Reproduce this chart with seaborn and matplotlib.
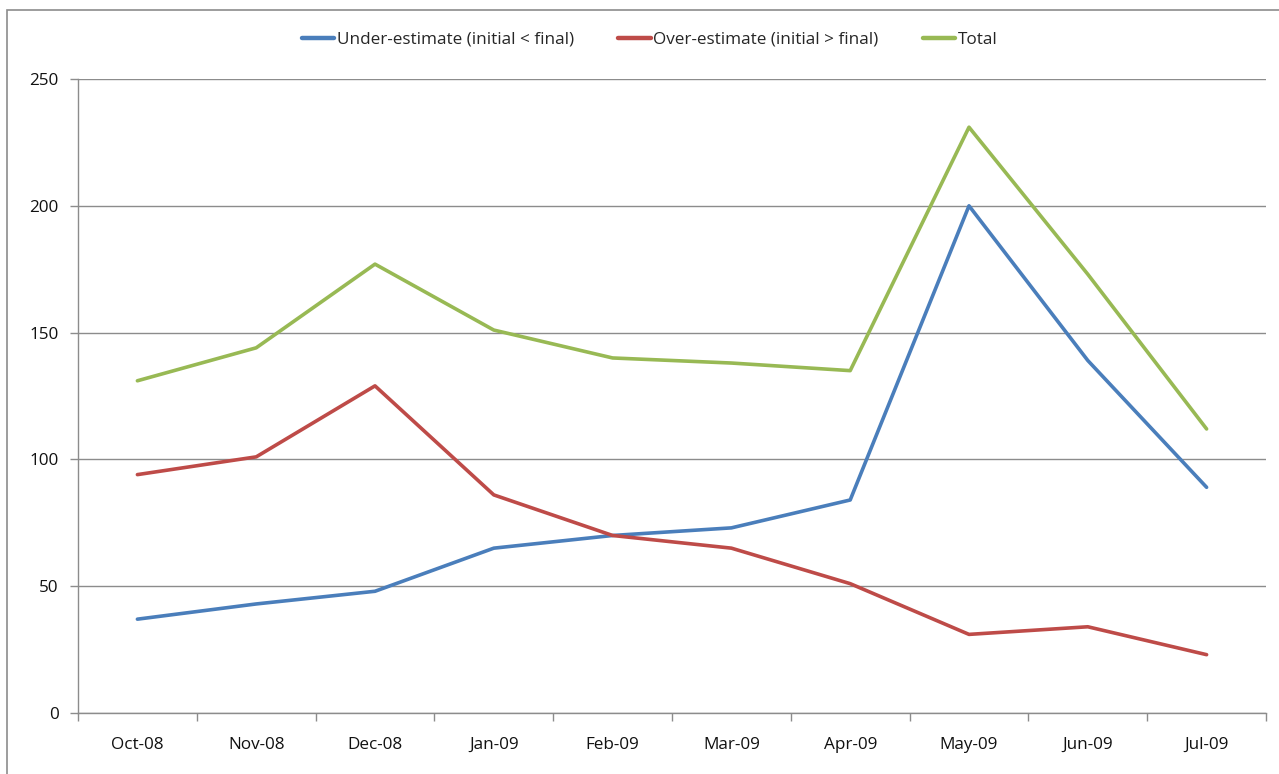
import matplotlib
matplotlib.use("Agg")
import matplotlib.pyplot as plt
import seaborn as sns
import pandas as pd
from matplotlib.patches import Rectangle

months = ["Oct-08", "Nov-08", "Dec-08", "Jan-09", "Feb-09", "Mar-09", "Apr-09", "May-09", "Jun-09", "Jul-09"]
under = [37, 43, 48, 65, 70, 73, 84, 200, 139, 89]
over = [94, 101, 129, 86, 70, 65, 51, 31, 34, 23]
total = [131, 144, 177, 151, 140, 138, 135, 231, 173, 112]
series_names = ["Under-estimate (initial < final)", "Over-estimate (initial > final)", "Total"]
colors = ["#4A7EBB", "#BE4B48", "#98B954"]
yticks = [0, 50, 100, 150, 200, 250]

sns.set_theme(style="white")
plt.rcParams['font.family'] = ['Open Sans', 'DejaVu Sans']

rows = []
for name, vals in zip(series_names, [under, over, total]):
    for i, (m, v) in enumerate(zip(months, vals)):
        rows.append({"idx": i, "month": m, "value": v, "series": name})
df = pd.DataFrame(rows)

FS = 12.3
W, H = 1279, 774
fig = plt.figure(figsize=(W / 100, H / 100), dpi=100)
ax = fig.add_axes([78 / W, 1 - 713 / H, (1266 - 78) / W, (713 - 79) / H])

sns.lineplot(data=df, x="idx", y="value", hue="series", hue_order=series_names,
             palette=colors, linewidth=2.6, ax=ax, legend=True)

ax.set_xlim(-0.5, len(months) - 0.5)
ax.set_ylim(0, 250)
ax.set_yticks(yticks)
ax.set_yticklabels([str(t) for t in yticks], fontsize=FS, color="#111111")
ax.yaxis.grid(True, color="#8C8C8C", linewidth=1)
ax.set_axisbelow(True)

# category labels at centers, tick marks at boundaries
ax.set_xticks(range(len(months)))
ax.set_xticklabels(months, fontsize=FS, color="#111111")
ax.tick_params(axis="x", which="major", length=0, pad=17)
ax.set_xticks([i - 0.5 for i in range(len(months) + 1)], minor=True)
ax.tick_params(axis="x", which="minor", length=6, color="#8C8C8C", width=1, direction="out")
ax.tick_params(axis="y", length=6, color="#8C8C8C", width=1, direction="out", pad=8)
ax.tick_params(axis="y", which="major", left=True)
ax.xaxis.set_tick_params(which="minor", bottom=True)

for s in ["top", "right"]:
    ax.spines[s].set_visible(False)
for s in ["left", "bottom"]:
    ax.spines[s].set_color("#8C8C8C")
    ax.spines[s].set_linewidth(1)

ax.set_xlabel("")
ax.set_ylabel("")

handles, labels = ax.get_legend_handles_labels()
for h in handles:
    h.set_linewidth(3.2)
ax.get_legend().remove()
fig.legend(handles, labels, loc="center", bbox_to_anchor=(0.508, 1 - 40 / H), ncol=3,
           frameon=False, fontsize=FS, handlelength=1.9, handletextpad=0.15,
           columnspacing=2.6)

fig.patches.append(Rectangle((7 / W, -0.1), 1.2, 1.1 - 10 / H, transform=fig.transFigure,
                             fill=False, edgecolor="#8C8C8C", linewidth=1.2))

fig.savefig("out.png", dpi=100)
